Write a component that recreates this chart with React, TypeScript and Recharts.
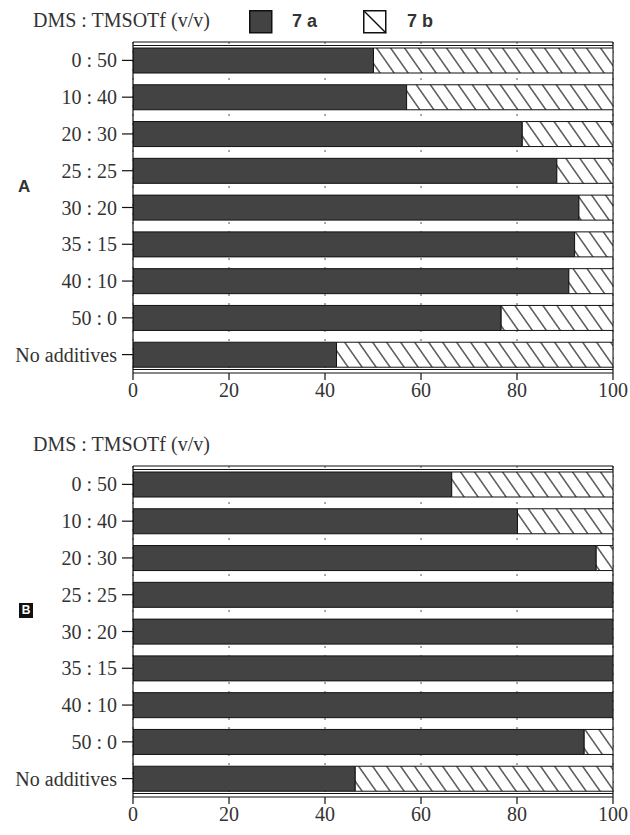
import React from "react";
import {
  BarChart,
  Bar,
  XAxis,
  YAxis,
  CartesianGrid,
  ReferenceArea,
} from "recharts";

const categories = [
  "0 : 50",
  "10 : 40",
  "20 : 30",
  "25 : 25",
  "30 : 20",
  "35 : 15",
  "40 : 10",
  "50 : 0",
  "No additives",
];

// Panel A (percent of product)
const panelA7a = [50.1, 57.0, 81.1, 88.3, 92.9, 92.0, 90.8, 76.7, 42.4];
const panelA7b = [49.9, 43.0, 18.9, 11.7, 7.1, 8.0, 9.2, 23.3, 57.6];

// Panel B (percent of product)
const panelB7a = [66.4, 80.1, 96.5, 100, 100, 100, 100, 94.0, 46.3];
const panelB7b = [33.6, 19.9, 3.5, 0, 0, 0, 0, 6.0, 53.7];

const xTicks = [0, 20, 40, 60, 80, 100];
const seriesNames = ["7 a", "7 b"];
const axisTitle = "DMS : TMSOTf (v/v)";

const SERIF = "'Liberation Serif', 'Times New Roman', serif";
const SANS = "'Liberation Sans', Arial, sans-serif";
const DARK = "#434343";

const buildRows = (a: number[], b: number[]) =>
  categories.map((c, i) => ({ name: c, a7: a[i], b7: b[i] }));

const Frame = (props: any) => {
  const { x, y, width, height } = props;
  if (x == null || y == null) return null;
  return (
    <g stroke="#111" fill="none" strokeWidth={1.2}>
      <line x1={x} y1={y} x2={x + width} y2={y} />
      <line x1={x} y1={y + 3.5} x2={x + width} y2={y + 3.5} />
      <line x1={x} y1={y + height - 3.5} x2={x + width} y2={y + height - 3.5} />
      <line x1={x + width} y1={y} x2={x + width} y2={y + height} />
    </g>
  );
};

type PanelProps = {
  rows: { name: string; a7: number; b7: number }[];
  id: string;
  height: number;
  marginBottom: number;
};

const Panel = ({ rows, id, height, marginBottom }: PanelProps) => (
  <BarChart
    width={630}
    height={height}
    data={rows}
    layout="vertical"
    margin={{ top: 42, right: 17, left: 0, bottom: marginBottom }}
    barSize={25}
  >
    <defs>
      <pattern
        id={`hatch-${id}`}
        patternUnits="userSpaceOnUse"
        width={14}
        height={20}
        patternTransform="skewX(35)"
      >
        <rect x={0} y={0} width={14} height={20} fill="#fff" />
        <line x1={7} y1={0} x2={7} y2={20} stroke="#111" strokeWidth={1.3} />
      </pattern>
    </defs>
    <CartesianGrid
      horizontal={false}
      vertical={true}
      stroke="#555"
      strokeDasharray="2 7"
    />
    <XAxis
      type="number"
      domain={[0, 100]}
      ticks={xTicks}
      allowDataOverflow
      height={30}
      axisLine={{ stroke: "#111", strokeWidth: 1.2 }}
      tickLine={{ stroke: "#111", strokeWidth: 1.2 }}
      tickSize={7}
      tickMargin={3}
      tick={{ fontFamily: SERIF, fontSize: 20, fill: "#333" }}
    />
    <YAxis
      type="category"
      dataKey="name"
      width={133}
      interval={0}
      axisLine={{ stroke: "#111", strokeWidth: 1.2 }}
      tickLine={{ stroke: "#111", strokeWidth: 1.2 }}
      tickSize={11}
      tickMargin={5}
      tick={{ fontFamily: SERIF, fontSize: 20, fill: "#333" }}
    />
    <Bar
      dataKey="a7"
      name={seriesNames[0]}
      stackId="s"
      fill={DARK}
      stroke="#111"
      strokeWidth={1}
      isAnimationActive={false}
    />
    <Bar
      dataKey="b7"
      name={seriesNames[1]}
      stackId="s"
      fill={`url(#hatch-${id})`}
      stroke="#111"
      strokeWidth={1}
      isAnimationActive={false}
    />
    <ReferenceArea
      x1={0}
      x2={100}
      ifOverflow="visible"
      shape={(p: any) => <Frame {...p} />}
    />
  </BarChart>
);

const LegendHeader = ({ top, showKey }: { top: number; showKey: boolean }) => (
  <div style={{ position: "absolute", left: 0, top, width: 630, height: 40 }}>
    <div
      style={{
        position: "absolute",
        left: 33,
        top: 8,
        fontFamily: SERIF,
        fontSize: 20,
        color: "#333",
        whiteSpace: "nowrap",
        lineHeight: "24px",
      }}
    >
      {axisTitle}
    </div>
    {showKey && (
      <>
        <svg
          style={{ position: "absolute", left: 249, top: 10 }}
          width={24}
          height={24}
        >
          <rect x={0.75} y={0.75} width={22} height={22} fill={DARK} stroke="#111" strokeWidth={1.5} />
        </svg>
        <div
          style={{
            position: "absolute",
            left: 292,
            top: 9,
            fontFamily: SANS,
            fontWeight: "bold",
            fontSize: 18,
            color: "#333",
            lineHeight: "24px",
            whiteSpace: "pre",
          }}
        >
          {seriesNames[0]}
        </div>
        <svg
          style={{ position: "absolute", left: 363, top: 10 }}
          width={24}
          height={24}
        >
          <rect x={0.75} y={0.75} width={22} height={22} fill="#fff" stroke="#111" strokeWidth={1.5} />
          <line x1={1} y1={1} x2={23} y2={23} stroke="#111" strokeWidth={1.5} />
        </svg>
        <div
          style={{
            position: "absolute",
            left: 407,
            top: 9,
            fontFamily: SANS,
            fontWeight: "bold",
            fontSize: 18,
            color: "#333",
            lineHeight: "24px",
            whiteSpace: "pre",
          }}
        >
          {seriesNames[1]}
        </div>
      </>
    )}
  </div>
);

export default function App() {
  const rowsA = buildRows(panelA7a, panelA7b);
  const rowsB = buildRows(panelB7a, panelB7b);
  return (
    <div
      style={{
        position: "absolute",
        left: 0,
        top: 0,
        width: 630,
        height: 835,
        background: "#fff",
        overflow: "hidden",
      }}
    >
      <div style={{ position: "absolute", left: 0, top: 0 }}>
        <Panel rows={rowsA} id="a" height={420} marginBottom={17} />
      </div>
      <div style={{ position: "absolute", left: 0, top: 424 }}>
        <Panel rows={rowsB} id="b" height={411} marginBottom={8} />
      </div>
      <LegendHeader top={0} showKey={true} />
      <LegendHeader top={424} showKey={false} />
      <div
        style={{
          position: "absolute",
          left: 18,
          top: 177,
          fontFamily: SANS,
          fontWeight: "bold",
          fontSize: 17,
          color: "#333",
          lineHeight: "20px",
        }}
      >
        A
      </div>
      <div
        style={{
          position: "absolute",
          left: 19,
          top: 603,
          width: 14,
          height: 15,
          background: "#111",
          color: "#fff",
          fontFamily: SANS,
          fontWeight: "bold",
          fontSize: 12,
          lineHeight: "15px",
          textAlign: "center",
        }}
      >
        B
      </div>
    </div>
  );
}
